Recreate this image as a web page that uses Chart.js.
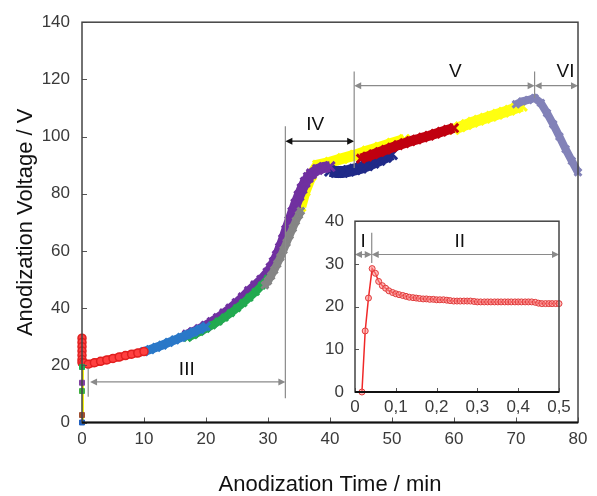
<!DOCTYPE html>
<html>
<head>
<meta charset="utf-8">
<script src="https://cdn.jsdelivr.net/npm/chart.js@4/dist/chart.umd.min.js"></script>
<style>
  body { margin: 0; background: #fff; }
  #wrap { position: relative; width: 597px; height: 496px; }
  #main { position: absolute; left: 0; top: 0; }
  #inset { position: absolute; left: 320px; top: 200px; }
</style>
</head>
<body>
<div id="wrap">
  <canvas id="main" width="597" height="496"></canvas>
  <canvas id="inset" width="260" height="220"></canvas>
</div>
<script>
// main curve, one array pair per coloured segment (time in min, voltage in V)
const startT = [0, 0, 0, 0, 0];
const startV = [0, 2.6, 11, 13.9, 19.4];
const startColors = ['#2060c0', '#a05030', '#40b040', '#8040a0', '#20b050'];
const yellowStartT = [0.15, 0.15];
const yellowStartV = [0.5, 19.5];

const redT = [0, 0, 0, 0, 0, 0, 0, 0.3, 1, 2, 3, 4, 5, 6, 7, 8, 9, 10];
const redV = [29.5, 28, 26.5, 25, 23.5, 22, 21, 20.8, 20.4, 20.9, 21.4, 21.9, 22.4, 22.9, 23.4, 23.9, 24.3, 24.8];
const blueT = [10, 11, 12, 13, 14, 15, 16, 17, 18, 19, 20];
const blueV = [24.8, 25.5, 26.3, 27.1, 28, 28.9, 29.8, 30.7, 31.6, 32.6, 33.6];
const greenT = [17, 18, 19, 20, 21, 22, 23, 24, 25, 26, 27, 28, 29, 30];
const greenV = [29.6, 30.6, 31.7, 32.8, 34, 35.3, 36.7, 38.3, 40, 41.8, 43.7, 45.7, 47.9, 50.3];
const purpleT = [17, 18, 19, 20, 21, 22, 23, 24, 25, 26, 27, 28, 29, 30, 30.5, 31, 31.5, 32, 32.5, 33, 33.5, 34, 34.5, 35, 35.5, 36, 36.5, 37, 38, 39, 40];
const purpleV = [30.6, 31.5, 32.5, 33.7, 35, 36.4, 38, 39.7, 41.6, 43.6, 45.8, 47.8, 49.8, 52.3, 54, 56, 58.3, 61, 64, 67.2, 70.4, 73.5, 76.5, 79.3, 81.8, 84, 85.7, 87, 88.5, 89.2, 89.5];
const grayT = [29.5, 30, 30.5, 31, 31.5, 32, 32.5, 33, 33.5, 34, 34.5, 35, 35.3];
const grayV = [48, 49.5, 51.3, 53.3, 55.5, 57.8, 60.3, 62.9, 65.5, 68, 70.5, 72.6, 74];
const yellowT = [35.3, 36, 37, 38, 40, 42, 44, 46, 48, 50, 52];
const yellowV = [75.5, 81, 86.5, 90, 91, 92.3, 93.5, 95, 96.3, 97.7, 99];
const navyT = [40, 41, 42, 43, 44, 45, 46, 47, 48, 49, 50];
const navyV = [88, 87.6, 87.6, 88, 88.5, 89.1, 89.9, 90.8, 91.8, 92.8, 93.8];
const darkRedT = [45, 46, 47, 48, 49, 50, 51, 52, 53, 54, 55, 56, 57, 58, 59, 60];
const darkRedV = [92.3, 93, 93.8, 94.6, 95.4, 96.2, 97, 97.7, 98.4, 99, 99.7, 100.3, 101, 101.7, 102.4, 103];
const yellow2T = [60, 61, 62, 63, 64, 65, 66, 67, 68, 69, 70, 71];
const yellow2V = [102.5, 103.4, 104.2, 105, 105.7, 106.4, 107.1, 107.8, 108.5, 109.2, 110, 110.6];
const slateT = [70, 71, 72, 73, 74, 75, 76, 77, 78, 79, 80];
const slateV = [111.3, 112.3, 112.8, 113.5, 111.8, 108.2, 104.3, 100, 95.6, 91.5, 87.5];

// inset: first half minute
const insetT = [0.017, 0.025, 0.033, 0.042, 0.05, 0.058, 0.067, 0.075, 0.083, 0.092, 0.1, 0.108, 0.117, 0.125, 0.133, 0.142, 0.15, 0.158, 0.167, 0.175, 0.183, 0.192, 0.2, 0.208, 0.217, 0.225, 0.233, 0.242, 0.25, 0.258, 0.267, 0.275, 0.283, 0.292, 0.3, 0.308, 0.317, 0.325, 0.333, 0.342, 0.35, 0.358, 0.367, 0.375, 0.383, 0.392, 0.4, 0.408, 0.417, 0.425, 0.433, 0.442, 0.45, 0.458, 0.467, 0.475, 0.483, 0.492, 0.5];
const insetV = [0, 14.3, 22, 28.9, 27.8, 25.9, 24.9, 24.3, 23.7, 23.3, 23, 22.8, 22.6, 22.4, 22.2, 22.1, 22, 21.9, 21.8, 21.8, 21.7, 21.7, 21.6, 21.6, 21.6, 21.5, 21.4, 21.3, 21.3, 21.3, 21.3, 21.3, 21.3, 21.2, 21.1, 21.1, 21.1, 21.1, 21.1, 21.1, 21.1, 21.1, 21.1, 21.1, 21.1, 21.1, 21.1, 21.1, 21.1, 21.1, 21.1, 21, 20.8, 20.7, 20.7, 20.7, 20.7, 20.7, 20.7];

const mainTicksX = [0, 10, 20, 30, 40, 50, 60, 70, 80];
const insetTickLabels = ['0', '0,1', '0,2', '0,3', '0,4', '0,5'];

Chart.defaults.font.family = "'Liberation Sans', Arial, sans-serif";
Chart.defaults.color = '#3a3a3a';

function pts(t, v) { return t.map((x, i) => ({x: x, y: v[i]})); }

function band(t, v, color, w, order) {
  return {
    data: pts(t, v), showLine: true, borderColor: color, backgroundColor: color,
    borderWidth: w, pointRadius: w * 0.6, pointStyle: 'crossRot', pointBorderColor: color,
    pointBorderWidth: 3, order: order, clip: false
  };
}

function arrowHead(ctx, x, y, dir) {
  ctx.beginPath();
  ctx.moveTo(x, y);
  ctx.lineTo(x - dir * 7, y - 3.5);
  ctx.lineTo(x - dir * 7, y + 3.5);
  ctx.closePath();
  ctx.fill();
}

function hArrow(ctx, x1, x2, y, color) {
  ctx.strokeStyle = color; ctx.fillStyle = color; ctx.lineWidth = 1.2;
  ctx.beginPath(); ctx.moveTo(x1 + 3, y); ctx.lineTo(x2 - 3, y); ctx.stroke();
  arrowHead(ctx, x1, y, -1);
  arrowHead(ctx, x2, y, 1);
}

function vLine(ctx, x, y1, y2, color) {
  ctx.strokeStyle = color; ctx.lineWidth = 1.2;
  ctx.beginPath(); ctx.moveTo(x, y1); ctx.lineTo(x, y2); ctx.stroke();
}

function drawFrame(chart, tickLen) {
  const {ctx, chartArea: a, scales: {x, y}} = chart;
  ctx.save();
  ctx.strokeStyle = '#555'; ctx.lineWidth = 1;
  ctx.beginPath();
  x.ticks.forEach(t => {
    const px = Math.round(x.getPixelForValue(t.value)) + 0.5;
    ctx.moveTo(px, a.bottom); ctx.lineTo(px, a.bottom - tickLen);
  });
  y.ticks.forEach(t => {
    const py = Math.round(y.getPixelForValue(t.value)) + 0.5;
    ctx.moveTo(a.left, py); ctx.lineTo(a.left + tickLen, py);
  });
  ctx.stroke();
  ctx.strokeStyle = '#444'; ctx.lineWidth = 1.5;
  ctx.strokeRect(a.left, a.top, a.width, a.height);
  ctx.strokeStyle = '#111'; ctx.lineWidth = 2;
  ctx.beginPath(); ctx.moveTo(a.left, a.bottom); ctx.lineTo(a.right, a.bottom); ctx.stroke();
  ctx.restore();
}

const mainDecor = {
  id: 'mainDecor',
  afterDatasetsDraw(chart) {
    const {ctx, scales: {x, y}} = chart;
    const X = v => x.getPixelForValue(v), Y = v => y.getPixelForValue(v);
    ctx.save();
    const g = '#8a8a8a';
    vLine(ctx, X(1.0), Y(19), Y(9), g);
    vLine(ctx, X(32.8), Y(103.6), Y(8.5), g);
    hArrow(ctx, X(1.3), X(32.8), Y(14.2), g);
    hArrow(ctx, X(32.8), X(43.9), Y(98.4), '#111');
    vLine(ctx, X(43.9), Y(122.8), Y(89), g);
    hArrow(ctx, X(43.9), X(73), Y(117.8), g);
    vLine(ctx, X(73), Y(122.8), Y(113.5), g);
    hArrow(ctx, X(73), X(80), Y(117.8), g);
    ctx.fillStyle = '#111';
    ctx.font = "19px 'Liberation Sans', Arial, sans-serif";
    ctx.textAlign = 'center'; ctx.textBaseline = 'middle';
    ctx.fillText('III', X(16.9), Y(18.3));
    ctx.fillText('IV', X(37.6), Y(104));
    ctx.fillText('V', X(60.2), Y(122.5));
    ctx.fillText('VI', X(78), Y(122.5));
    ctx.restore();
  },
  afterDraw(chart) { drawFrame(chart, 5); }
};

const insetDecor = {
  id: 'insetDecor',
  beforeDraw(chart) {
    const {ctx, chartArea: a} = chart;
    ctx.save(); ctx.fillStyle = '#fff';
    ctx.fillRect(a.left, a.top, a.width, a.height);
    ctx.restore();
  },
  afterDatasetsDraw(chart) {
    const {ctx, scales: {x, y}} = chart;
    const X = v => x.getPixelForValue(v), Y = v => y.getPixelForValue(v);
    ctx.save();
    const g = '#8a8a8a';
    vLine(ctx, X(0.041), Y(37.3), Y(30.2), g);
    hArrow(ctx, X(0), X(0.041), Y(32.2), g);
    hArrow(ctx, X(0.041), X(0.5), Y(32.2), g);
    ctx.fillStyle = '#111';
    ctx.font = "19px 'Liberation Sans', Arial, sans-serif";
    ctx.textAlign = 'center'; ctx.textBaseline = 'middle';
    ctx.fillText('I', X(0.02), Y(35.3));
    ctx.fillText('II', X(0.257), Y(35.3));
    ctx.restore();
  },
  afterDraw(chart) { drawFrame(chart, 4); }
};

const tickFont = {size: 17};

new Chart(document.getElementById('main'), {
  type: 'scatter',
  data: {
    datasets: [
      {data: pts(yellowStartT, yellowStartV), showLine: true, borderColor: '#f0f000', borderWidth: 2, pointRadius: 0, order: 1, clip: false},
      {data: pts(startT, startV), pointRadius: 3.5, pointStyle: 'rect', pointBackgroundColor: startColors, pointBorderColor: startColors, order: 0, clip: false},
      {data: pts(redT, redV), showLine: true, borderColor: '#ff1010', borderWidth: 8, pointRadius: 4, pointBorderColor: '#e02020', pointBackgroundColor: '#ff4040', pointBorderWidth: 1.5, order: 2, clip: false},
      band(blueT, blueV, '#2a78c8', 9, 3),
      band(greenT, greenV, '#22aa50', 8, 5),
      band(purpleT, purpleV, '#7030a0', 11, 6),
      band(grayT, grayV, '#858585', 8, 4),
      band(yellowT, yellowV, '#ffff00', 11, 12),
      band(navyT, navyV, '#202a88', 12, 8),
      band(darkRedT, darkRedV, '#c00010', 10, 7),
      band(yellow2T, yellow2V, '#ffff10', 11, 10),
      band(slateT, slateV, '#8282b8', 8, 9)
    ]
  },
  options: {
    responsive: false, animation: false,
    layout: {padding: {top: 21, right: 19, left: 0, bottom: 0}},
    plugins: {legend: {display: false}, tooltip: {enabled: false}},
    scales: {
      x: {
        type: 'linear', min: 0, max: 80,
        afterBuildTicks: s => { s.ticks = mainTicksX.map(v => ({value: v})); },
        afterFit: s => { s.height = 73.5; },
        grid: {display: false, drawTicks: false},
        border: {display: false},
        ticks: {font: tickFont, padding: 7, maxRotation: 0},
        title: {display: true, text: 'Anodization Time / min', font: {size: 22}, color: '#111', padding: {top: 0, bottom: -2}}
      },
      y: {
        type: 'linear', min: 0, max: 140,
        ticks: {stepSize: 20, font: tickFont, padding: 12},
        afterFit: s => { s.width = 82; },
        grid: {display: false, drawTicks: false},
        border: {display: false},
        title: {display: true, text: 'Anodization Voltage / V', font: {size: 22}, color: '#111', padding: {top: 13, bottom: 0}}
      }
    }
  },
  plugins: [mainDecor]
});

new Chart(document.getElementById('inset'), {
  type: 'scatter',
  data: {
    datasets: [{
      data: pts(insetT, insetV), showLine: true, borderColor: '#f02828', borderWidth: 1.5,
      pointRadius: 3, pointBorderColor: '#e03a3a', pointBorderWidth: 1,
      pointBackgroundColor: 'rgba(255,140,140,0.55)', clip: false
    }]
  },
  options: {
    responsive: false, animation: false,
    layout: {padding: {top: 13, right: 21, left: 0, bottom: 0}},
    plugins: {legend: {display: false}, tooltip: {enabled: false}},
    scales: {
      x: {
        type: 'linear', min: 0, max: 0.5,
        ticks: {stepSize: 0.1, font: tickFont, padding: 5, maxRotation: 0,
          callback: (v, i) => insetTickLabels[i]},
        afterFit: s => { s.height = 28; },
        grid: {display: false, drawTicks: false},
        border: {display: false}
      },
      y: {
        type: 'linear', min: 0, max: 40,
        ticks: {stepSize: 10, font: tickFont, padding: 11},
        afterFit: s => { s.width = 35; },
        grid: {display: false, drawTicks: false},
        border: {display: false}
      }
    }
  },
  plugins: [insetDecor]
});
</script>
</body>
</html>
